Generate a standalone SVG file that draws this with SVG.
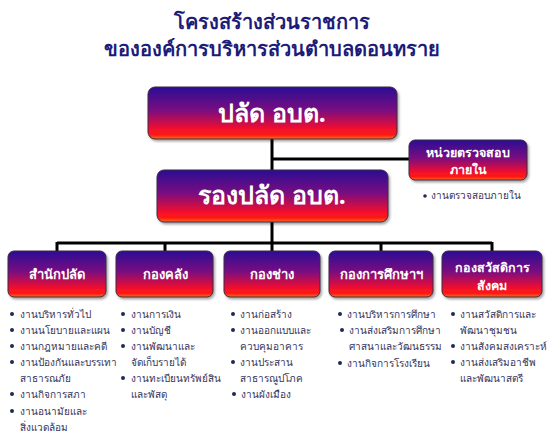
<svg xmlns="http://www.w3.org/2000/svg" width="550" height="443" viewBox="0 0 550 443">
<defs>
<linearGradient id="g" x1="0" y1="0" x2="0" y2="1">
<stop offset="0" stop-color="#2a0e94"/>
<stop offset="0.45" stop-color="#7a1080"/>
<stop offset="0.8" stop-color="#f01030"/>
<stop offset="0.92" stop-color="#ff1a10"/>
<stop offset="1" stop-color="#ff6a20"/>
</linearGradient>
<filter id="sh" x="-10%" y="-10%" width="125%" height="130%">
<feDropShadow dx="1.5" dy="2" stdDeviation="1.2" flood-color="#000" flood-opacity="0.35"/>
</filter>
</defs>
<style>
.box{fill:url(#g);stroke:#3a2a40;stroke-width:1;filter:url(#sh)}
.t{font-family:"Noto Sans","DejaVu Sans",sans-serif;font-weight:bold;fill:#fff;text-anchor:middle}
.title{font-family:"Noto Sans","DejaVu Sans",sans-serif;font-weight:bold;fill:#1c1c78;text-anchor:middle;font-size:20px}
.li{font-family:"Noto Sans","DejaVu Sans",sans-serif;fill:#34345a;font-size:10px}
.dot{fill:#1f2a55}
.ln{stroke:#000;stroke-width:3;fill:none}
</style>
<rect width="550" height="443" fill="#fff"/>
<text class="title" x="272" y="29">โครงสร้างส่วนราชการ</text>
<text class="title" x="272" y="56">ขององค์การบริหารส่วนตำบลดอนทราย</text>

<g id="connectors">
<path class="ln" d="M272 139V172M272 159H410M272 222V243M57 243H492M57 242V252M165 242V252M272 242V252M381 242V252M492 242V252"/>
</g>

<g id="n-palad">
<rect class="box" x="148" y="87" width="249" height="52" rx="7"/>
<text class="t" x="272" y="122" font-size="25">ปลัด อบต.</text>
</g>

<g id="n-audit">
<rect class="box" x="409" y="140" width="118" height="40" rx="6"/>
<text class="t" x="468" y="157" font-size="12.5">หน่วยตรวจสอบ</text>
<text class="t" x="468" y="174" font-size="12.5">ภายใน</text>
<circle class="dot" cx="425" cy="196" r="1.8"/>
<text class="li" x="431" y="199" font-size="9">งานตรวจสอบภายใน</text>
</g>

<g id="n-rongpalad">
<rect class="box" x="157" y="170" width="231" height="52" rx="7"/>
<text class="t" x="272" y="204" font-size="25">รองปลัด อบต.</text>
</g>

<g id="n-office">
<rect class="box" x="8" y="251" width="98" height="46" rx="6"/>
<text class="t" x="57" y="279" font-size="13">สำนักปลัด</text>
<circle class="dot" cx="12" cy="314" r="2"/><text class="li" x="20" y="318">งานบริหารทั่วไป</text>
<circle class="dot" cx="12" cy="330" r="2"/><text class="li" x="20" y="334">งานนโยบายและแผน</text>
<circle class="dot" cx="12" cy="346" r="2"/><text class="li" x="20" y="350">งานกฎหมายและคดี</text>
<circle class="dot" cx="12" cy="362" r="2"/><text class="li" x="20" y="366">งานป้องกันและบรรเทา</text>
<text class="li" x="20" y="382">สาธารณภัย</text>
<circle class="dot" cx="12" cy="394" r="2"/><text class="li" x="20" y="398">งานกิจการสภา</text>
<circle class="dot" cx="12" cy="411" r="2"/><text class="li" x="20" y="415">งานอนามัยและ</text>
<text class="li" x="20" y="431">สิ่งแวดล้อม</text>
</g>

<g id="n-finance">
<rect class="box" x="116" y="251" width="97" height="46" rx="6"/>
<text class="t" x="165" y="279" font-size="13">กองคลัง</text>
<circle class="dot" cx="123" cy="314" r="2"/><text class="li" x="131" y="318">งานการเงิน</text>
<circle class="dot" cx="123" cy="330" r="2"/><text class="li" x="131" y="334">งานบัญชี</text>
<circle class="dot" cx="123" cy="346" r="2"/><text class="li" x="131" y="350">งานพัฒนาและ</text>
<text class="li" x="131" y="366">จัดเก็บรายได้</text>
<circle class="dot" cx="123" cy="378" r="2"/><text class="li" x="131" y="382">งานทะเบียนทรัพย์สิน</text>
<text class="li" x="131" y="398">และพัสดุ</text>
</g>

<g id="n-engineer">
<rect class="box" x="224" y="251" width="96" height="46" rx="6"/>
<text class="t" x="272" y="279" font-size="13">กองช่าง</text>
<circle class="dot" cx="233" cy="314" r="2"/><text class="li" x="240" y="318">งานก่อสร้าง</text>
<circle class="dot" cx="233" cy="330" r="2"/><text class="li" x="240" y="334">งานออกแบบและ</text>
<text class="li" x="240" y="350">ควบคุมอาคาร</text>
<circle class="dot" cx="233" cy="362" r="2"/><text class="li" x="240" y="366">งานประสาน</text>
<text class="li" x="240" y="382">สาธารณูปโภค</text>
<circle class="dot" cx="234" cy="394" r="2"/><text class="li" x="241" y="398">งานผังเมือง</text>
</g>

<g id="n-education">
<rect class="box" x="329" y="251" width="104" height="46" rx="6"/>
<text class="t" x="381" y="279" font-size="13">กองการศึกษาฯ</text>
<circle class="dot" cx="340" cy="314" r="2"/><text class="li" x="347" y="318">งานบริหารการศึกษา</text>
<circle class="dot" cx="342" cy="330" r="2"/><text class="li" x="349" y="334">งานส่งเสริมการศึกษา</text>
<text class="li" x="349" y="350">ศาสนาและวัฒนธรรม</text>
<circle class="dot" cx="340" cy="363" r="2"/><text class="li" x="347" y="367">งานกิจการโรงเรียน</text>
</g>

<g id="n-welfare">
<rect class="box" x="442" y="251" width="100" height="46" rx="6"/>
<text class="t" x="492" y="272" font-size="12.5">กองสวัสดิการ</text>
<text class="t" x="492" y="290" font-size="12.5">สังคม</text>
<circle class="dot" cx="453" cy="314" r="2"/><text class="li" x="460" y="318">งานสวัสดิการและ</text>
<text class="li" x="460" y="334">พัฒนาชุมชน</text>
<circle class="dot" cx="453" cy="346" r="2"/><text class="li" x="460" y="350">งานสังคมสงเคราะห์</text>
<circle class="dot" cx="453" cy="362" r="2"/><text class="li" x="460" y="366">งานส่งเสริมอาชีพ</text>
<text class="li" x="460" y="382">และพัฒนาสตรี</text>
</g>
</svg>
